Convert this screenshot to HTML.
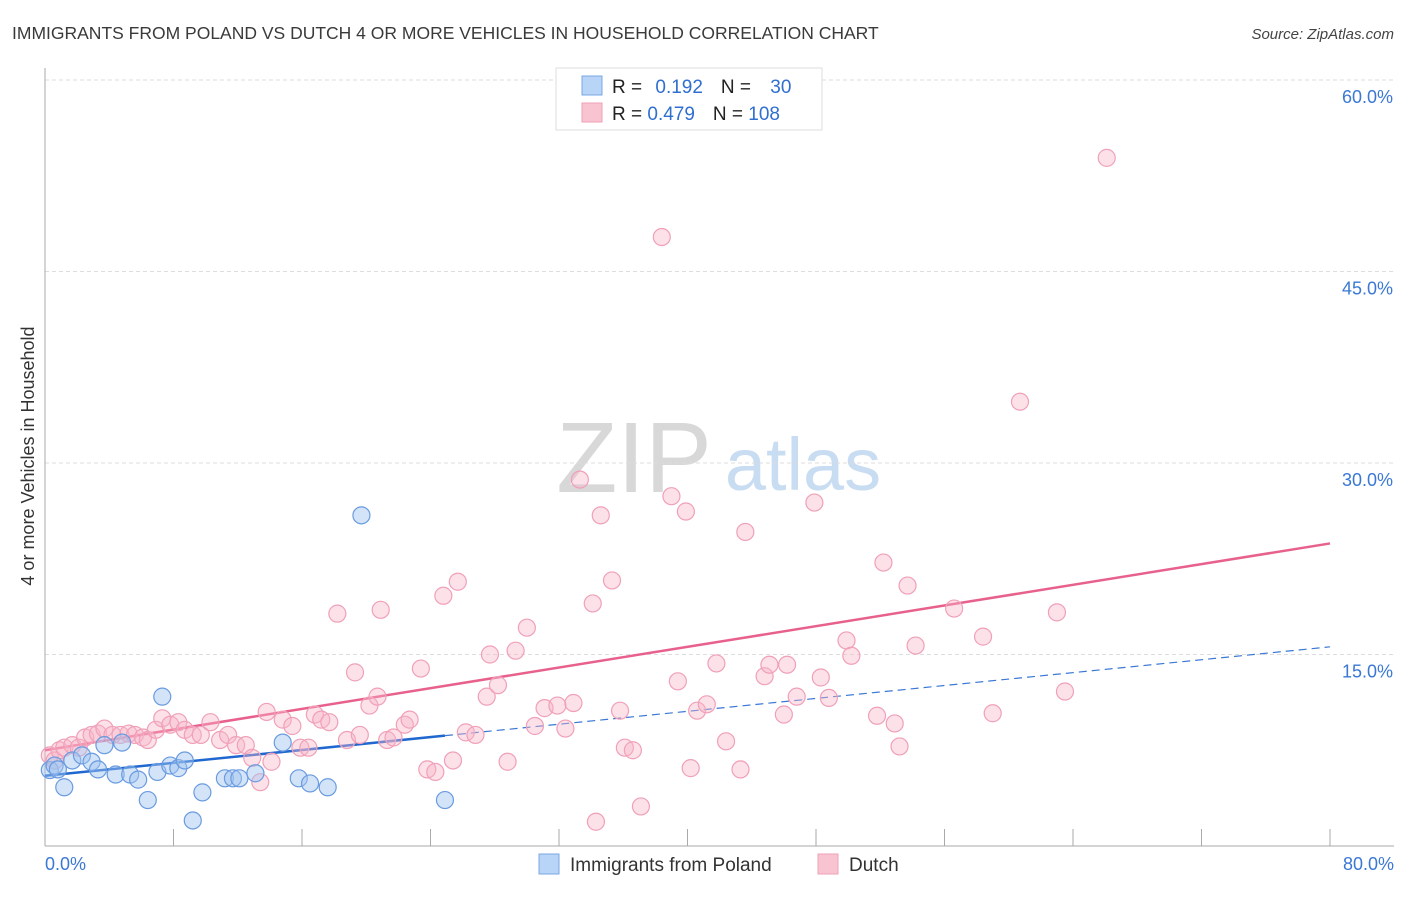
<!DOCTYPE html>
<html><head><meta charset="utf-8"><style>
body{margin:0;background:#fff;font-family:"Liberation Sans",sans-serif}
svg text{font-family:"Liberation Sans",sans-serif}
</style></head><body>
<svg id="chart" width="1406" height="892" xmlns="http://www.w3.org/2000/svg">
<text x="12" y="39" font-size="17.5" fill="#3a3a3a">IMMIGRANTS FROM POLAND VS DUTCH 4 OR MORE VEHICLES IN HOUSEHOLD CORRELATION CHART</text>
<text x="1394" y="39" font-size="15" fill="#444" text-anchor="end" font-style="italic">Source: ZipAtlas.com</text>
<g>
<text x="634" y="492" font-size="100" fill="#d8d8d8" font-family="Liberation Serif" text-anchor="middle">ZIP</text>
<text x="803" y="490" font-size="74" fill="#c8dcf2" text-anchor="middle">atlas</text>
</g>
<g id="grid"></g><g id="axes"></g><g id="trend"></g><g id="points"></g>
<text transform="translate(34,456) rotate(-90)" font-size="18" fill="#333" text-anchor="middle">4 or more Vehicles in Household</text>
<g>
<rect x="556" y="68" width="266" height="62" fill="#fff" stroke="#ddd"/>
<rect x="582" y="76" width="20" height="19" fill="#b8d4f6" stroke="#7aa8e6"/>
<rect x="582" y="103" width="20" height="19" fill="#f9c4d2" stroke="#f0a0b8"/>
<text x="612" y="93" font-size="19" fill="#222">R = <tspan fill="#2f6fd0" dx="8">0.192</tspan><tspan dx="18">N = </tspan><tspan fill="#2f6fd0" dx="14">30</tspan></text>
<text x="612" y="120" font-size="19" fill="#222">R = <tspan fill="#2f6fd0">0.479</tspan><tspan dx="18">N = </tspan><tspan fill="#2f6fd0">108</tspan></text>
</g>
<g>
<rect x="539" y="854" width="20" height="20" fill="#b8d4f6" stroke="#7aa8e6"/>
<text x="570" y="871" font-size="19" fill="#333">Immigrants from Poland</text>
<rect x="818" y="854" width="20" height="20" fill="#f9c4d2" stroke="#f0a0b8"/>
<text x="849" y="871" font-size="19" fill="#333">Dutch</text>
</g>
</svg>
<script>
const yTicks=[15,30,45,60];
const yTickLabels=["15.0%","30.0%","45.0%","60.0%"];
const xTicks=[0,8,16,24,32,40,48,56,64,72,80];
const xEndLabels=["0.0%","80.0%"];
const polandX=[0.3,0.6,0.8,1.2,1.7,2.3,2.9,3.3,3.7,4.4,4.8,5.3,5.8,6.4,7.0,7.3,7.8,8.3,8.7,9.8,9.2,11.2,11.7,12.1,13.1,14.8,15.8,16.5,17.6,19.7,24.9];
const polandY=[5.95,6.3,6.0,4.6,6.7,7.1,6.6,6.0,7.9,5.6,8.1,5.6,5.2,3.6,5.8,11.7,6.3,6.1,6.7,4.2,2.0,5.3,5.3,5.3,5.7,8.1,5.3,4.9,4.6,25.9,3.6];
const dutchX=[0.3,0.6,0.9,1.2,1.7,2.1,2.5,2.9,3.3,3.7,4.2,4.7,5.2,5.6,6.1,6.4,6.9,7.3,7.8,8.3,8.7,9.2,9.7,10.3,10.9,11.4,11.9,12.5,12.9,13.4,13.8,14.1,14.8,15.4,15.9,16.4,16.8,17.2,17.7,18.2,18.8,19.3,19.6,20.2,20.7,20.9,21.3,21.7,22.4,22.7,23.4,23.8,24.3,24.8,25.4,25.7,26.2,26.8,27.5,27.7,28.2,28.8,29.3,30.0,30.5,31.1,31.9,32.4,32.9,33.3,34.1,34.3,34.6,35.3,35.8,36.1,36.6,37.1,38.4,39.0,39.4,39.9,40.2,40.6,41.2,41.8,42.4,43.3,43.6,44.8,45.1,46.0,46.2,46.8,47.9,48.3,48.8,49.9,50.2,51.8,52.2,52.9,53.2,53.7,54.2,56.6,58.4,59.0,60.7,63.0,63.5,66.1];
const dutchY=[7.1,6.7,7.5,7.7,7.9,7.7,8.5,8.7,8.8,9.2,8.7,8.7,8.8,8.7,8.5,8.3,9.1,10.0,9.5,9.7,9.1,8.7,8.7,9.7,8.3,8.7,7.9,7.9,6.9,5.0,10.5,6.6,9.9,9.4,7.7,7.7,10.3,9.9,9.7,18.2,8.3,13.6,8.7,11.0,11.7,18.5,8.3,8.5,9.5,9.9,13.9,6.0,5.8,19.6,6.7,20.7,8.9,8.7,11.7,15.0,12.6,6.6,15.3,17.1,9.4,10.8,11.0,9.2,11.2,28.7,19.0,1.9,25.9,20.8,10.6,7.7,7.5,3.1,47.7,27.4,12.9,26.2,6.1,10.6,11.1,14.3,8.2,6.0,24.6,13.3,14.2,10.3,14.2,11.7,26.9,13.2,11.6,16.1,14.9,10.2,22.2,9.6,7.8,20.4,15.7,18.6,16.4,10.4,34.8,18.3,12.1,53.9];
const polandTrend=[5.5,15.6];
const dutchTrend=[7.5,23.7];
const polandSolidEnd=24.9;

const NS="http://www.w3.org/2000/svg";
const X=v=>45+v*(1285/80);
const Y=v=>846-v*(766/60);
function mk(tag,attrs,parent){const e=document.createElementNS(NS,tag);for(const k in attrs)e.setAttribute(k,attrs[k]);parent.appendChild(e);return e;}
const grid=document.getElementById('grid'),axes=document.getElementById('axes'),trend=document.getElementById('trend'),pts=document.getElementById('points');
yTicks.forEach((t,i)=>{
 const l=mk('line',{x1:45,x2:1394,y1:Y(t),y2:Y(t),stroke:'#ddd','stroke-dasharray':'4,3'},grid);
 
 
 const tx=mk('text',{x:1393,y:Y(t)+23,'font-size':18,fill:'#3a78d4','text-anchor':'end'},grid);
 tx.textContent=yTickLabels[i];
 
 
});
const ya=mk('line',{x1:45,x2:45,y1:68,y2:846,stroke:'#aaa'},axes);


const xa=mk('line',{x1:45,x2:1394,y1:846,y2:846,stroke:'#aaa'},axes);


xTicks.forEach(t=>{
 const l=mk('line',{x1:X(t),x2:X(t),y1:829,y2:846,stroke:'#aaa'},axes);
 
 
});
[[0,'start',45],[80,'end',1394]].forEach((d,i)=>{
 const tx=mk('text',{x:d[2],y:870,'font-size':18,fill:'#3a78d4','text-anchor':d[1]},axes);
 tx.textContent=xEndLabels[i];
 
 
});
function drawPts(xs,ys,fill,stroke,name){
 xs.forEach((x,i)=>{
  const c=mk('circle',{cx:X(x),cy:Y(ys[i]),r:8.5,fill:fill,stroke:stroke,'stroke-width':1.2},pts);
  
  
 });
}
drawPts(dutchX,dutchY,'rgba(248,180,200,0.4)','#f0a0b8','dutch-point');
drawPts(polandX,polandY,'rgba(160,196,240,0.45)','#6a9be0','poland-point');
const lin=(tr,x)=>tr[0]+(tr[1]-tr[0])*x/80;
const dt=mk('line',{x1:X(0),y1:Y(lin(dutchTrend,0)),x2:X(80),y2:Y(lin(dutchTrend,80)),stroke:'#e8608c','stroke-width':2.5},trend);


const pd=mk('line',{x1:X(polandSolidEnd),y1:Y(lin(polandTrend,polandSolidEnd)),x2:X(80),y2:Y(lin(polandTrend,80)),stroke:'#3a78d4','stroke-width':1.2,'stroke-dasharray':'8,5'},trend);


const ps=mk('line',{x1:X(0),y1:Y(lin(polandTrend,0)),x2:X(polandSolidEnd),y2:Y(lin(polandTrend,polandSolidEnd)),stroke:'#2068d0','stroke-width':2.5},trend);


</script>
</body></html>
